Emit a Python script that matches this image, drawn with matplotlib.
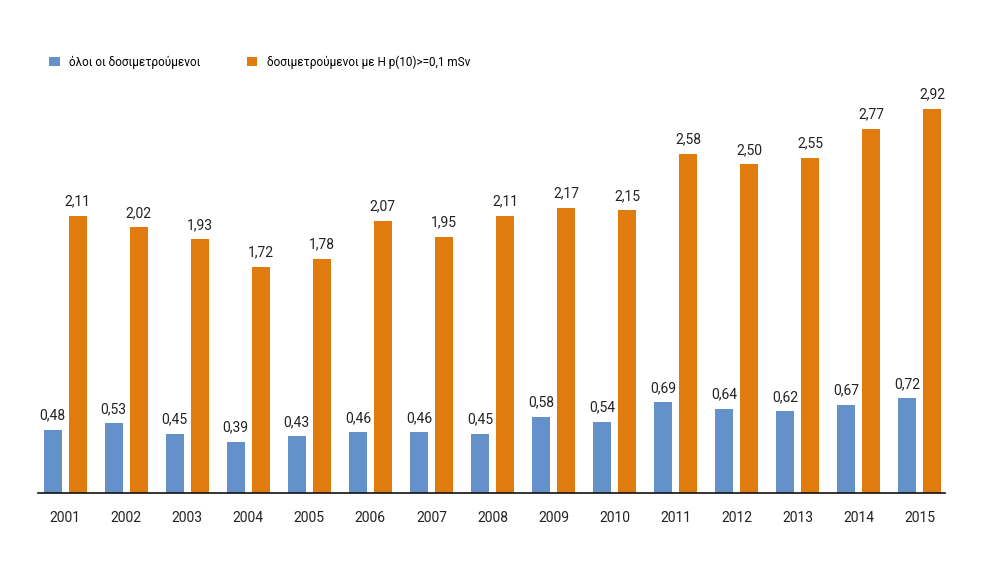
import matplotlib.pyplot as plt
import numpy as np

years = ['2001', '2002', '2003', '2004', '2005', '2006', '2007', '2008',
         '2009', '2010', '2011', '2012', '2013', '2014', '2015']
oloi = [0.48, 0.53, 0.45, 0.39, 0.43, 0.46, 0.46, 0.45,
        0.58, 0.54, 0.69, 0.64, 0.62, 0.67, 0.72]
hp10 = [2.11, 2.02, 1.93, 1.72, 1.78, 2.07, 1.95, 2.11,
        2.17, 2.15, 2.58, 2.50, 2.55, 2.77, 2.92]

blue = '#6591cb'
orange = '#e07b0e'

plt.rcParams['font.family'] = ['Roboto', 'DejaVu Sans']

fig = plt.figure(figsize=(10.01, 5.69), dpi=100)
ax = fig.add_axes([0.038, 0.1336, 0.906, 0.7395])

x = np.arange(len(years))
w = 0.295
off = 0.205
b1 = ax.bar(x - off, oloi, w, color=blue, label='όλοι οι δοσιμετρούμενοι')
b2 = ax.bar(x + off, hp10, w, color=orange, label='δοσιμετρούμενοι με H p(10)>=0,1 mSv')

def fmt(v):
    return f'{v:.2f}'.replace('.', ',')

for bars, vals in [(b1, oloi), (b2, hp10)]:
    for b, v in zip(bars, vals):
        ax.text(b.get_x() + b.get_width() / 2, v + 0.055, fmt(v),
                ha='center', va='bottom', fontsize=10, color='#222222')

ax.set_xlim(-0.442, 14.41)
ax.set_ylim(0, 3.2)
ax.set_xticks(x)
ax.set_xticklabels(years, fontsize=10, color='#222222')
ax.tick_params(axis='x', length=0, pad=13)
ax.set_yticks([])
for s in ['top', 'right', 'left']:
    ax.spines[s].set_visible(False)
ax.spines['bottom'].set_color('#111111')
ax.spines['bottom'].set_linewidth(1.2)

ax.legend(loc='upper left', bbox_to_anchor=(0.049, 0.903), bbox_transform=fig.transFigure,
          ncol=2, frameon=False, fontsize=8.5, handlelength=0.9, handleheight=0.9,
          handletextpad=0.8, columnspacing=3.9, borderpad=0, borderaxespad=0)

fig.savefig('out.png', dpi=100)
